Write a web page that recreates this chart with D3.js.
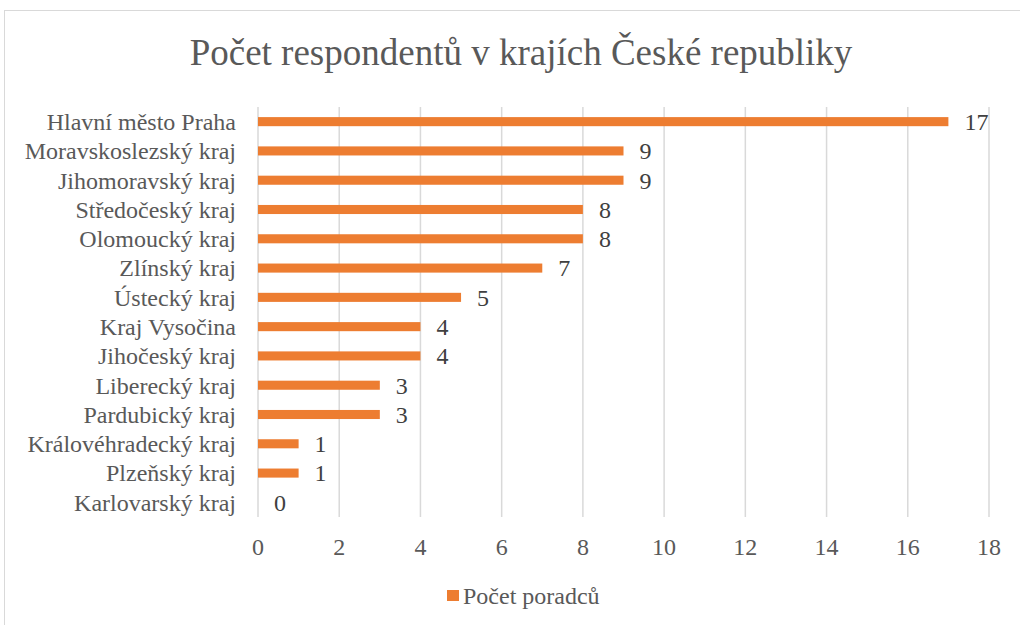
<!DOCTYPE html>
<html>
<head>
<meta charset="utf-8">
<script src="https://cdn.jsdelivr.net/npm/d3@7"></script>
<style>
  body { margin: 0; background: #fff; }
</style>
</head>
<body>
<div id="chart"></div>
<script>
// regions, top to bottom
const regions = ["Hlavní město Praha", "Moravskoslezský kraj", "Jihomoravský kraj",
  "Středočeský kraj", "Olomoucký kraj", "Zlínský kraj", "Ústecký kraj",
  "Kraj Vysočina", "Jihočeský kraj", "Liberecký kraj", "Pardubický kraj",
  "Královéhradecký kraj", "Plzeňský kraj", "Karlovarský kraj"];
const counts = [17, 9, 9, 8, 8, 7, 5, 4, 4, 3, 3, 1, 1, 0];
const xTicks = [0, 2, 4, 6, 8, 10, 12, 14, 16, 18];
const title = "Počet respondentů v krajích České republiky";
const seriesName = "Počet poradců";

const W = 1020, H = 625;
const margin = {top: 107, right: 31, bottom: 108, left: 258};
const width = W - margin.left - margin.right;
const height = H - margin.top - margin.bottom;
const font = "Liberation Serif, serif";

const svg = d3.select("#chart").append("svg")
  .attr("width", W).attr("height", H);

// chart border
svg.append("rect")
  .attr("x", 4.5).attr("y", 10.5)
  .attr("width", W - 4).attr("height", H - 6)
  .attr("fill", "none").attr("stroke", "#d9d9d9");

svg.append("text")
  .attr("x", 521).attr("y", 65)
  .attr("text-anchor", "middle")
  .style("font-family", font).style("font-size", "37px")
  .attr("fill", "#595959")
  .text(title);

const g = svg.append("g")
  .attr("transform", `translate(${margin.left},${margin.top})`);

const x = d3.scaleLinear().domain([0, 18]).range([0, width]);
const y = d3.scaleBand().domain(regions).range([0, height]).paddingInner(0.69).paddingOuter(0.345);

// gridlines
g.selectAll(".grid").data(xTicks).join("line")
  .attr("x1", d => x(d)).attr("x2", d => x(d))
  .attr("y1", 0).attr("y2", height)
  .attr("stroke", "#d9d9d9").attr("stroke-width", 1.5);

// bars
g.selectAll(".bar").data(regions).join("rect")
  .attr("x", x(0))
  .attr("y", d => y(d))
  .attr("width", (d, i) => x(counts[i]) - x(0))
  .attr("height", y.bandwidth())
  .attr("fill", "#ed7d31");

// value labels
g.selectAll(".val").data(regions).join("text")
  .attr("x", (d, i) => x(counts[i]) + 16)
  .attr("y", d => y(d) + y.bandwidth() / 2)
  .attr("dy", "0.35em")
  .style("font-family", font).style("font-size", "24px")
  .attr("fill", "#404040")
  .text((d, i) => counts[i]);

// category labels
g.selectAll(".cat").data(regions).join("text")
  .attr("x", -22)
  .attr("y", d => y(d) + y.bandwidth() / 2)
  .attr("dy", "0.35em")
  .attr("text-anchor", "end")
  .style("font-family", font).style("font-size", "24px")
  .attr("fill", "#595959")
  .text(d => d);

// x tick labels
g.selectAll(".tick").data(xTicks).join("text")
  .attr("x", d => x(d))
  .attr("y", height + 30)
  .attr("dy", "0.35em")
  .attr("text-anchor", "middle")
  .style("font-family", font).style("font-size", "24px")
  .attr("fill", "#595959")
  .text(d => d);

// legend
const leg = svg.append("g").attr("transform", "translate(447,590)");
leg.append("rect").attr("width", 12).attr("height", 11).attr("fill", "#ed7d31");
leg.append("text").attr("x", 16).attr("y", 5.5).attr("dy", "0.35em")
  .style("font-family", font).style("font-size", "24px")
  .attr("fill", "#595959")
  .text(seriesName);
</script>
</body>
</html>
